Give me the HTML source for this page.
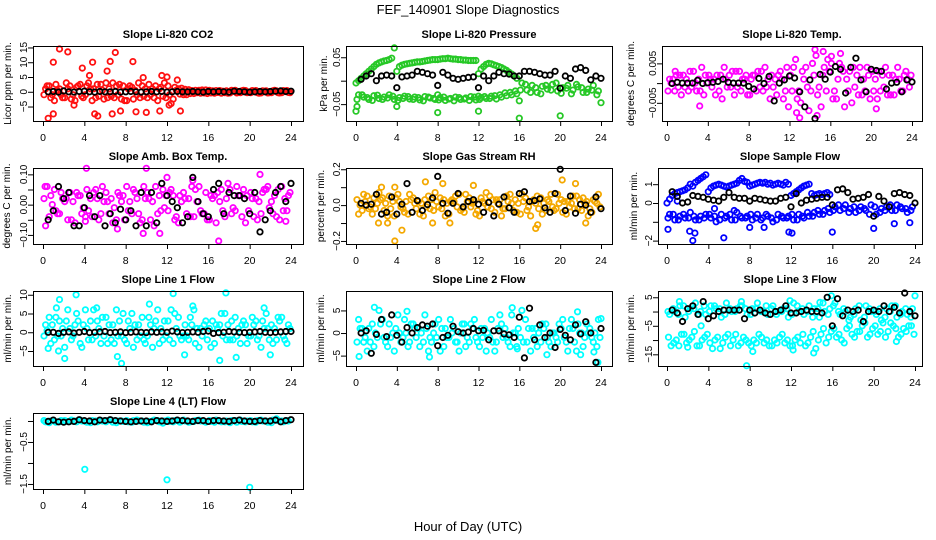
<!DOCTYPE html>
<html><head><meta charset="utf-8"><style>
html,body{margin:0;padding:0;background:#fff}
svg{display:block;font-family:"Liberation Sans",sans-serif}
</style></head><body>
<svg id="chart" width="936" height="540" viewBox="0 0 936 540" xmlns="http://www.w3.org/2000/svg">
<text x="468" y="14" font-size="13" text-anchor="middle">FEF_140901  Slope Diagnostics</text>
<text x="468" y="531" font-size="13" text-anchor="middle">Hour of Day (UTC)</text>
</svg>
<script>
// ---------- DATA ----------
const xTickLabels = [0,4,8,12,16,20,24];
// Panel 1 CO2
const co2RedA=[1,-2,2.5,-1,3,-2.5,1.5,-1.5,2,-3,2.5,0.5,-2,3,-1,2,1,-2.5,3,-1.5,2.5,-2,1,3,-1,1.5,-0.8,0.8,-0.6,0.5,-0.5,0.6,-0.4,0.4,-0.5,0.3,0.5,-0.4,0.3,-0.3,0.4,-0.3,0.3,-0.4,0.3,-0.3,0.4,-0.2];
const co2RedB=[-1,2,-3,1,-2,2,-3,2.5,-1,1,-2,2.5,3,-1.5,2,-2.5,-3,1.5,-1,2,-2,1,-3,-1.5,2,-2.5,1,-1,0.7,-0.6,0.5,-0.4,0.5,-0.5,0.4,-0.3,-0.4,0.5,-0.3,0.4,-0.3,0.4,-0.4,0.3,-0.3,0.3,-0.3,0.4];
const co2RedC=[2,-1,0.5,-2,1,-1,2,-2,3,1,-1.5,-2.5,1,-2,2.5,-3,2,0.5,-2,1,-1,2,1.5,-2,-4,0.5,1.2,-1,0.4,-0.3,0.6,-0.6,0.3,-0.2,0.2,-0.5,0.2,-0.2,0.5,-0.2,0.2,-0.5,0.2,-0.3,0.5,-0.4,0.2,-0.3];
const co2RedOut=[[1.6,14.5],[2.4,13.5],[1,10],[3.8,8],[4.8,10],[6.5,10.3],[7,13.3],[8.7,10.2],[6.2,7],[4.5,5.5],[0.5,-9],[1,-7.5],[5,-7.5],[5.3,-8.2],[6.7,-7.5],[7.5,-6.5],[9,-6.8],[10,-7],[11.3,-6.5],[13.3,-6.5],[11.5,5.5],[12,5],[9.7,4.8],[13,4],[3,-4.5],[12.2,-4.5]];
const co2Black=[0,0.1,-0.1,0.3,0,-0.1,0.1,0.2,0,-0.1,0.1,0,0,0.1,-0.1,0,0.1,0,-0.1,0,0.1,0,0.1,-0.1,0,0.1,0,0,0.1,0,-0.1,0.1,0,0.1,0,-0.1,0.2,0.1,0,-0.1,0,0.1,0,0.1,0.2,0.3,0.1,0.2];
// Panel 2 pressure
const presGreenUp=[-0.005,0,0.005,0.01,0.015,0.02,0.025,0.03,0.035,0.038,0.04,0.042,0.043,0.045,0.048,0.07,0.02,0.03,0.033,0.035,0.036,0.037,0.038,0.039,0.04,0.04,0.041,0.042,0.043,0.044,0.045,0.045,0.045,0.046,0.047,0.047,0.048,0.047,0.046,0.046,0.045,0.045,0.044,0.044,0.043,0.043,0.043,0.043,0.015,0.025,0.03,0.035,0.037,0.036,0.034,0.032,0.03,0.028,0.025,0.022,0.018,0.014,0.01,0.005];
const presGreenLoA=[-0.03,-0.035,-0.04,-0.032,-0.038,-0.035,-0.03,-0.04,-0.036,-0.033,-0.039,-0.035,-0.041,-0.034,-0.037,-0.04,-0.036,-0.042,-0.038,-0.035,-0.04,-0.037,-0.034,-0.041,-0.036,-0.038,-0.033,-0.039,-0.035,-0.032,-0.03,-0.028,-0.005,-0.02,-0.01,-0.025,-0.012,-0.018,-0.008,-0.022,-0.015,-0.01,-0.02,-0.013,-0.025,-0.018,-0.01,-0.022];
const presGreenLoB=[-0.04,-0.03,-0.036,-0.042,-0.031,-0.04,-0.037,-0.033,-0.042,-0.038,-0.034,-0.04,-0.036,-0.043,-0.035,-0.038,-0.041,-0.035,-0.039,-0.043,-0.036,-0.039,-0.042,-0.035,-0.04,-0.034,-0.038,-0.032,-0.03,-0.026,-0.025,-0.022,-0.02,-0.008,-0.025,-0.015,-0.028,-0.01,-0.02,-0.005,-0.027,-0.016,-0.028,-0.008,-0.015,-0.025,-0.02,-0.03];
const presGreenOut=[[0,-0.065],[0.1,-0.055],[8,-0.068],[12,-0.065],[16,-0.08],[20,-0.075],[24,-0.047],[4,-0.055],[16,-0.043],[8,-0.03],[12,-0.033]];
const presBlack=[0.003,0.01,0.015,0,0.01,0.012,0.01,-0.015,0.008,0.01,0.012,0.02,0.018,0.015,0.012,-0.01,0.018,0.012,0.005,0.003,0.005,0.007,0.008,-0.015,0.01,0,0.01,0.018,0.015,0.014,0.01,0.01,0.02,0.02,0.018,0.015,0.012,0.012,0.02,-0.016,0.01,0.005,0.025,0.028,0.022,0.002,0.01,0.005];
// Panel 3 Li-820 temp
const tempMagA=[.001,-.002,.002,-.001,.003,0,-.002,.002,.001,-.003,.002,.001,-.001,.003,-.002,.002,.001,-.002,.003,-.001,.002,-.003,.001,.004,-.002,-.004,.003,-.001,.005,-.003,.002,.006,-.004,.001,.003,-.002,.004,-.003,.001,.002,-.002,.003,-.001,.002,-.003,.001,.002,-.001];
const tempMagB=[-.002,.001,-.001,.002,-.002,.003,.001,-.003,.002,.001,-.002,.004,.002,-.003,.003,.001,-.003,.002,-.001,.004,-.004,.001,.003,-.002,.002,.006,-.005,.004,-.002,.007,-.006,-.002,.005,-.004,.004,.001,-.005,.002,-.003,.004,.003,-.004,.002,-.003,.002,.004,-.002,.001];
const tempMagC=[0,.002,-.003,.001,-.001,-.002,.004,0,-.001,.002,-.004,-.001,.003,-.001,.001,-.003,.002,.003,-.002,.001,-.001,.002,-.004,-.006,.004,-.002,.001,-.007,.002,-.001,.004,.003,-.002,.005,-.006,.003,-.001,.004,-.002,-.004,.001,-.002,.004,-.003,.001,-.002,.003,.002];
const tempMagOut=[[3.2,-.0058],[12.7,-.0075],[13,-.0088],[14.7,-.0082],[14.5,.0085],[17,.0075],[20.5,-.0065],[15.3,.008],[16.1,.0068],[0.8,.003]];
const tempBlack=[-.0001,.0002,0,0,0,.0007,-.0001,.0001,.0002,.0004,.001,.0002,0,0,0,-.0008,-.0015,.0012,-.0001,.0017,-.0045,0,.0008,.0018,.0013,-.0022,-.006,.0008,-.009,.0022,.001,.0028,.0042,.0035,-.0025,.004,.0063,.0008,-.0022,.0035,.0032,.003,-.0015,0,.0002,-.0022,.0008,.0003];
// Panel 4 amb box temp
const ambMagA=[-.07,.03,-.02,.04,.02,-.05,.04,-.03,.05,-.04,.02,.06,.01,-.06,.04,.03,-.02,.05,-.03,.06,.02,-.07,.03,-.01,.04,-.05,.03,.02,-.04,.05,-.02,.04,.03,-.06,.05,.02,-.03,.06,-.04,.03,.02,-.05,.04,.06,-.03,.05,-.02,.03];
const ambMagB=[.02,-.04,.05,-.03,.01,.04,-.06,.03,-.04,.02,.05,-.03,.04,.02,-.05,.01,.06,-.03,.02,-.05,.04,.01,-.03,.05,-.02,.03,-.06,.04,.02,-.04,.06,-.03,-.05,.03,.01,-.04,.05,-.02,.03,-.06,.04,.02,-.03,.05,.01,-.04,.06,-.02];
const ambMagC=[.06,0,-.03,.02,-.05,.01,.03,-.01,-.02,.04,-.05,.01,-.03,-.01,.03,-.05,.01,.04,-.06,.02,-.05,.06,-.02,.03,.05,-.04,.01,-.03,.06,.01,-.03,-.05,.02,.04,-.02,.07,-.01,.03,.05,-.02,-.04,.01,.05,-.01,.03,-.05,.02,.04];
const ambMagOut=[[4.2,.12],[10,.12],[4.1,-.055],[12,.09],[17,-.12],[21,.1],[14.5,.08],[9.7,-.095],[11.3,-.095],[7.2,-.08],[23.5,-.055],[0.2,.06]];
const ambBlack=[-.05,-.02,.06,.02,.04,-.07,-.07,-.01,.03,-.04,.03,-.07,-.03,-.06,-.015,-.05,-.02,-.07,.04,-.07,.04,-.06,.07,.03,.01,-.01,-.06,-.04,.09,.01,-.03,-.04,.05,.07,-.03,.04,.03,.03,.02,-.03,.04,-.09,-.05,-.02,.04,.06,.01,.07];
// Panel 5 gas stream RH
const rhOrgA=[-.05,.06,-.02,.04,.07,-.03,.05,-.06,.02,-.04,.06,.01,-.05,.03,-.02,.07,.04,-.06,.02,.05,-.03,.06,-.01,-.05,.04,.07,-.02,.03,-.06,.05,.01,-.04,.06,-.03,.02,.05,-.05,.03,-.01,.06,-.04,.02,.05,-.02,.04,-.06,.03,.06];
const rhOrgB=[.03,-.03,.05,-.05,.01,.04,-.06,.02,.06,-.02,-.05,.04,.02,-.06,.05,-.03,-.01,.03,-.05,.02,.06,-.04,.04,.02,-.06,.01,.05,-.04,.03,-.02,.06,.03,-.05,.04,-.06,.01,.04,-.03,.06,-.02,.03,-.05,.01,.05,-.03,.02,-.04,.01];
const rhOrgC=[0,.02,-.01,-.02,.03,.01,-.02,.04,-.01,.02,.03,-.02,.01,-.01,.03,.02,-.02,.01,.03,-.01,-.02,.02,.01,-.03,.02,-.01,.03,.01,-.02,.02,-.03,.01,.02,-.01,.03,-.02,.01,.02,-.03,.01,.02,-.01,-.02,.03,.01,-.02,.02,-.01];
const rhOrgOut=[[3.8,-.2],[4.5,-.14],[2.2,-.1],[3.1,-.1],[7.5,-.1],[9.2,-.1],[17.6,-.13],[17.8,-.11],[22.5,-.1],[6.8,.13],[8.5,.12],[11.5,.11],[20.2,.14],[21.5,.12],[3.8,.1],[2.5,.1]];
const rhBlack=[.01,0,.005,.06,-.05,-.04,.045,-.05,.005,.12,-.04,.025,-.03,.003,.04,.16,.01,-.045,.01,.065,-.01,.02,.03,.005,-.04,.015,-.06,.005,.045,-.015,-.04,.065,.075,.02,.025,.035,-.015,-.04,.065,.2,-.03,.05,-.045,.005,0,-.04,.045,-.02];
// Panel 6 sample flow
const sfBlueUp=[0,0.2,0.4,0.5,0.55,0.6,0.65,0.7,0.8,1.0,0.9,1.1,1.2,1.3,1.4,1.5,0.6,0.8,0.9,0.95,1.0,0.95,0.9,0.85,0.9,0.95,1.0,1.05,1.2,1.3,1.15,1.1,0.9,0.95,1.0,1.05,1.1,1.05,1.1,1.0,1.05,0.95,1.0,1.05,1.0,0.95,1.1,1.0,0.4,0.5,0.6,0.7,0.8,0.9,0.95,1.0,0.5,0.4,0.45,0.5,0.45,0.5,0.55,0.45];
const sfBlueLoA=[-0.6,-0.9,-0.7,-0.8,-0.5,-0.9,-0.7,-0.6,-0.8,-1.0,-0.6,-0.7,-0.9,-0.5,-0.8,-0.7,-0.9,-0.6,-0.8,-0.7,-1.0,-0.6,-0.8,-0.7,-0.9,-0.6,-0.8,-0.7,-0.5,-0.6,-0.4,-0.5,-0.2,-0.4,-0.1,-0.3,-0.5,-0.2,-0.4,-0.1,-0.6,-0.3,-0.2,-0.4,-0.1,-0.3,-0.5,-0.2];
const sfBlueLoB=[-0.8,-0.6,-0.9,-0.6,-0.8,-0.7,-0.9,-0.8,-0.6,-0.7,-0.9,-0.8,-0.6,-0.9,-0.7,-0.8,-0.6,-0.8,-0.9,-0.6,-0.8,-0.9,-0.7,-0.8,-0.6,-0.9,-0.7,-0.5,-0.7,-0.4,-0.6,-0.3,-0.4,-0.1,-0.3,-0.5,-0.2,-0.4,-0.3,-0.6,-0.2,-0.5,-0.4,-0.1,-0.4,-0.2,-0.3,-0.4];
const sfBlueOut=[[0.1,-1.4],[2.5,-2],[2.7,-1.6],[2.2,-1.5],[5.5,-1.85],[16,-1.55],[20,-1.35],[11.8,-1.55],[12.1,-1.6],[22,-1.1],[23.5,-1.05],[1.0,0.1],[4.6,-0.3],[6.5,-0.4],[8,-1.3],[9.4,-1.3]];
const sfBlack=[.6,.35,0,.05,.4,.35,.3,.2,.15,.1,.3,.55,.3,.25,.25,.1,.25,.2,.15,.1,.1,.25,.3,-.2,.5,0,.15,.2,.25,.3,.3,-.1,.7,.75,.55,.2,.25,.3,.45,-.7,.35,.1,-.2,.5,.55,.45,.4,0];
// Panel 7 line 1 flow
const l1CyanA=[2,-3,4,-1,3,-2,5,-4,1,-2,3,4,-3,2,-1,5,3,-4,2,-2,4,1,-3,3,-2,5,-1,2,4,-3,1,3,-4,2,5,-2,3,-1,2,-3,4,-2,3,1,-3,4,-1,2];
const l1CyanB=[-1,4,-2,3,-4,1,2,-3,6,3,-1,-3,4,-2,6,-1,-3,5,-2,4,-1,-4,6,-2,3,-3,4,-1,-2,6,-4,2,1,-3,2,5,-2,4,-3,2,-1,3,-4,5,2,-2,4,-3];
const l1CyanC=[0.5,2,-1,1,6,-1,3,2,-2,6,1,-1,2,-3,3,-2,1,2,-1,-3,2,3,1,-1,6,1,-2,-1,2,1,-1,-2,3,1,-1,2,-2,1,3,-1,2,-1,1,-2,1,3,-2,1];
const l1CyanOut=[[0.5,-4.3],[1.5,-5],[1.6,8.7],[2.1,-7],[3.2,10],[7.2,-6.5],[7.6,-8.3],[10.3,7.5],[12.6,10.3],[13.7,-6],[17.1,-7.5],[17.7,10.5],[18.7,-6.7],[22,-6],[21.4,6.5],[1.3,6.5],[5.2,6.5],[14.5,7]];
const l1Black=[0,0,-0.3,0,0.1,-0.2,0,0.2,-0.1,0,0.1,0.2,-0.1,0,0.1,-0.1,0,0.1,0,-0.1,0.1,0,0.1,0,0.3,0.1,-0.1,0,0.1,0,0.2,0.3,-0.3,-0.1,0,0.2,0.1,0,-0.1,0,0.1,0.2,0,-0.1,0,0.1,0.2,0.2];
// Panel 8 line 2 flow
const l2CyanA=[3,-2,1,-3,5,-1,2,-4,0,3,-2,1,-3,4,-1,2,-4,1,3,-2,0,-3,2,-1,1,-4,3,-2,2,-1,4,-3,5,-2,1,-3,2,-1,0,-2,3,-4,1,2,-3,0,-2,3];
const l2CyanB=[-2,1,-4,2,-1,3,-3,0,4,-1,-3,2,1,-2,-4,0,3,-3,-1,1,-4,2,-2,3,-3,1,-1,-4,4,1,-3,0,-1,3,-4,1,-2,2,-3,-1,1,-2,3,-4,0,2,-1,-3];
const l2CyanC=[1,-1,-2,0,2,-2,-1,1,-2,0,2,-1,0,1,-2,-1,1,-1,0,-2,2,-1,1,-2,-1,0,-2,1,-1,-2,0,1,-2,1,-1,0,1,-2,0,2,-1,1,-2,0,-1,1,0,-1];
const l2CyanOut=[[0.3,-5.2],[1.8,5.7],[5,4.8],[7.2,-5.3],[15.3,5.6],[15.8,-3.5],[18.7,-4.8],[21.7,4.7],[22,-4.8],[23.3,-4.2],[23.7,-6.5],[24,3.2]];
const l2Black=[0,.5,-4.5,-.3,3,-.8,4,-.5,-2,1.2,0,1.2,1.8,1.5,2,-2.8,-1,-.5,1.5,.3,0,.2,1,.5,.6,-1.5,.5,.5,-.2,-.4,-1,3.5,-5.5,5.5,-1.5,1.8,-1,0,-3.2,.8,-.5,-1.5,1.8,-.2,2.5,0,-6.5,1];
// Panel 9 line 3 flow
const l3CyanUpA=[-1,0,2,-2,1,3,0,-1,2,1,-2,3,0,1,2,-1,1,3,0,-1,2,0,1,-2,3,0,-1,2,1,-2,0,1,3,-1,0,-2,1,-3,2,0,-1,-3,1,2,-2,0,-1,1];
const l3CyanUpB=[0,1,-1,2,0,1,-1,2,0,2,1,-1,1,0,2,1,-1,1,0,2,1,-1,0,1,-1,2,1,0,-2,1,3,-1,2,0,1,-3,-1,2,-2,1,0,1,-2,0,2,-1,1,-2];
const l3CyanLoA=[-12,-10,-8,-11,-9,-12,-10,-8,-13,-9,-11,-8,-10,-12,-9,-11,-10,-8,-11,-12,-10,-9,-11,-12,-10,-11,-12,-9,-13,-8,-11,-7,-9,-10,-6,-8,-7,-5,-9,-6,-8,-4,-7,-5,-9,-6,-5,-8];
const l3CyanLoB=[-9,-11,-12,-8,-10,-7,-12,-9,-11,-10,-13,-9,-12,-8,-11,-10,-12,-11,-9,-10,-12,-11,-8,-10,-12,-9,-8,-11,-7,-10,-6,-9,-6,-8,-11,-5,-9,-7,-4,-8,-5,-7,-9,-4,-6,-8,-7,-5];
const l3CyanOut=[[7.7,-19],[12.2,-13.5],[14.2,-14.5],[8.3,-14],[2,-12.5],[22.2,-10.5],[1.2,3.5],[3.3,-5],[7.2,3.5],[11.9,3.8],[15.9,5.5],[24,5.5],[14.8,3.2]];
const l3Black=[.5,-.5,-3.5,1,2,-1,3.5,-2.5,-1.5,0,.5,.5,.5,.5,-2.5,.5,-.5,.5,-.5,-1,0,.5,2,-.5,-.5,0,.5,0,0,-.5,5,-5,4.5,-1.5,.5,0,.5,-3.5,0,.5,0,2,0,1.5,-.5,6.5,0,-1.5];
// Panel 10 line 4 flow
const l4CyanA=[-0.02,0,-0.03,0.01,-0.01,0.02,-0.02,0,-0.03,0.01,-0.02,0,0.01,-0.03,0,-0.01,-0.02,0.01,0,-0.03,-0.01,0.02,-0.02,0,-0.01,0.01,-0.03,0,-0.02,0.01,0,-0.03,-0.01,0.02,-0.02,0,0.01,-0.03,-0.01,0,-0.02,0.01,0,-0.03,0.02,0.01,-0.02,0];
const l4CyanB=[0.01,-0.04,0,-0.02,0.01,-0.01,0,0.02,-0.01,-0.04,0,0.01,-0.02,0.02,-0.04,0,0.01,-0.03,0.02,0,-0.04,0,0.01,-0.05,0.02,-0.02,0,0.02,-0.03,-0.01,0.02,-0.01,0.01,-0.03,0,-0.02,-0.04,0.01,0.02,-0.02,0.01,-0.03,0.02,0,-0.04,0.05,0,0.01];
const l4CyanOut=[[4.05,-1.15],[12,-1.4],[20,-1.58]];
const l4Black=[-0.01,0.02,-0.02,-0.03,-0.02,-0.01,0.03,0.01,0,-0.02,0.02,0.01,0.03,0.01,0,-0.01,-0.02,-0.01,0,0,-0.02,0.01,0,-0.01,0,0.02,0.01,0,-0.01,0.01,0.01,-0.01,0.01,0.01,0,-0.01,0.01,0.02,0,-0.01,-0.01,0.01,0,0,0.02,-0.02,0.01,0.03];

// ---------- LAYOUT ----------
const RED="#ff1010",GREEN="#26c826",MAG="#ff00ff",ORG="#f4a800",BLUE="#0000ff",CYAN="#00ffff";
const panels=[
 {name:"co2",title:"Slope Li-820 CO2",ylab:"Licor ppm per min.",L:33,R:303,T:46,B:121,x0:43,x24:291,yT:15.5,yB:-9.9,yt:[-5,0,5,10,15],yl:["−5","0","5","10","15"],labX:7,
  series:[[co2RedA,RED,.25],[co2RedB,RED,.1],[co2RedC,RED,.4]],out:[co2RedOut,RED],black:co2Black},
 {name:"pressure",title:"Slope Li-820 Pressure",ylab:"kPa per min.",L:346,R:612,T:46,B:121,x0:356,x24:601,yT:.074,yB:-.086,yt:[-.05,0,.05],yl:["−0.05","","0.05"],labX:323,
  series:[[presGreenLoA,GREEN,.25],[presGreenLoB,GREEN,.1]],up:[presGreenUp,GREEN],out:[presGreenOut,GREEN],black:presBlack},
 {name:"li820-temp",title:"Slope Li-820 Temp.",ylab:"degrees C per min.",L:662,R:922,T:46,B:121,x0:667,x24:912,yT:.0094,yB:-.0096,yt:[-.005,0,.005],yl:["−0.005","","0.005"],labX:630,
  series:[[tempMagA,MAG,.25],[tempMagB,MAG,.1],[tempMagC,MAG,.4]],out:[tempMagOut,MAG],black:tempBlack},
 {name:"amb-box-temp",title:"Slope Amb. Box Temp.",ylab:"degrees C per min.",L:33,R:303,T:168,B:244,x0:43,x24:291,yT:.121,yB:-.13,yt:[-.1,-.05,0,.05,.1],yl:["−0.10","","0.00","","0.10"],labX:6,
  series:[[ambMagA,MAG,.25],[ambMagB,MAG,.1],[ambMagC,MAG,.4]],out:[ambMagOut,MAG],black:ambBlack},
 {name:"gas-stream-rh",title:"Slope Gas Stream RH",ylab:"percent per min.",L:346,R:612,T:168,B:244,x0:356,x24:601,yT:.207,yB:-.217,yt:[-.2,-.1,0,.1,.2],yl:["−0.2","","0.0","","0.2"],labX:320,
  series:[[rhOrgA,ORG,.25],[rhOrgB,ORG,.1],[rhOrgC,ORG,.4]],out:[rhOrgOut,ORG],black:rhBlack},
 {name:"sample-flow",title:"Slope Sample Flow",ylab:"ml/min per min.",L:658,R:922,T:168,B:244,x0:667,x24:915,yT:1.86,yB:-2.18,yt:[-2,-1,0,1],yl:["−2","","0","1"],labX:633,
  series:[[sfBlueLoA,BLUE,.25],[sfBlueLoB,BLUE,.1]],up:[sfBlueUp,BLUE],out:[sfBlueOut,BLUE],black:sfBlack},
 {name:"line1-flow",title:"Slope Line 1 Flow",ylab:"ml/min per min.",L:33,R:303,T:291,B:366,x0:43,x24:291,yT:11,yB:-9,yt:[-5,0,5,10],yl:["−5","0","5","10"],labX:7,
  series:[[l1CyanA,CYAN,.25],[l1CyanB,CYAN,.1],[l1CyanC,CYAN,.4]],out:[l1CyanOut,CYAN],black:l1Black},
 {name:"line2-flow",title:"Slope Line 2 Flow",ylab:"ml/min per min.",L:346,R:612,T:291,B:366,x0:356,x24:601,yT:9.3,yB:-7.3,yt:[-5,0,5],yl:["−5","0","5"],labX:320,
  series:[[l2CyanA,CYAN,.25],[l2CyanB,CYAN,.1],[l2CyanC,CYAN,.4]],out:[l2CyanOut,CYAN],black:l2Black},
 {name:"line3-flow",title:"Slope Line 3 Flow",ylab:"ml/min per min.",L:658,R:922,T:291,B:366,x0:667,x24:915,yT:7.2,yB:-19.1,yt:[-15,-10,-5,0,5],yl:["−15","","−5","","5"],labX:630,
  series:[[l3CyanUpA,CYAN,.25],[l3CyanUpB,CYAN,.1],[l3CyanLoA,CYAN,.4],[l3CyanLoB,CYAN,.15]],out:[l3CyanOut,CYAN],black:l3Black},
 {name:"line4-flow",title:"Slope Line 4 (LT) Flow",ylab:"ml/min per min.",L:33,R:303,T:413,B:489,x0:43,x24:291,yT:.19,yB:-1.62,yt:[-1.5,-1,-.5,0],yl:["−1.5","","−0.5",""],labX:7,
  series:[[l4CyanA,CYAN,.25],[l4CyanB,CYAN,.1]],out:[l4CyanOut,CYAN],black:l4Black}
];

const NS="http://www.w3.org/2000/svg";
const svg=document.getElementById('chart');
function mk(tag,attrs,parent){const e=document.createElementNS(NS,tag);for(const k in attrs)e.setAttribute(k,attrs[k]);(parent||svg).appendChild(e);return e;}

panels.forEach(p=>{
  const g=mk('g',{});
  
  
  const xs=h=>p.x0+(p.x24-p.x0)*h/24;
  const ys=v=>p.T+(p.yT-v)/(p.yT-p.yB)*(p.B-p.T);
  function pt(h,v,col,nm){
    const c=mk('circle',{cx:xs(h).toFixed(1),cy:ys(v).toFixed(1),r:2.7,fill:'none',stroke:col,'stroke-width':1.8},g);
    
    
  }
  p.series.forEach(s=>s[0].forEach((v,i)=>pt(i*0.5+s[2],v,s[1],'colored-point')));
  if(p.up) p.up[0].forEach((v,i)=>pt(i*0.25,v,p.up[1],'colored-point'));
  p.out[0].forEach(o=>pt(o[0],o[1],p.out[1],'outlier-point'));
  p.black.forEach((v,i)=>pt(0.5+i*0.5,v,'#000','black-point'));
  const box=mk('rect',{x:p.L+.5,y:p.T+.5,width:p.R-p.L,height:p.B-p.T,fill:'none',stroke:'#000','stroke-width':1},g);
  
  
  const t=mk('text',{x:(p.L+p.R)/2,y:p.T-8,'font-size':11,'font-weight':'bold','text-anchor':'middle'},g);
  t.textContent=p.title;
  
  
  const xa=mk('g',{},g);
  
  
  mk('line',{x1:xs(0),x2:xs(24),y1:p.B+.5,y2:p.B+.5,stroke:'#000'},xa);
  xTickLabels.forEach(h=>{
    mk('line',{x1:xs(h)+.5,x2:xs(h)+.5,y1:p.B,y2:p.B+5,stroke:'#000'},xa);
    const tl=mk('text',{x:xs(h),y:p.B+20,'font-size':10.5,'text-anchor':'middle'},xa);
    tl.textContent=h;
    
    
  });
  const ya=mk('g',{},g);
  
  
  mk('line',{x1:p.L+.5,x2:p.L+.5,y1:ys(p.yt[0]),y2:ys(p.yt[p.yt.length-1]),stroke:'#000'},ya);
  p.yt.forEach((v,i)=>{
    const y=ys(v);
    mk('line',{x1:p.L-5,x2:p.L,y1:y+.5,y2:y+.5,stroke:'#000'},ya);
    if(p.yl[i]){
      const tl=mk('text',{x:p.L-6,y:y,'font-size':10,'text-anchor':'middle',transform:`rotate(-90 ${p.L-6} ${y})`},ya);
      tl.textContent=p.yl[i];
      
      
    }
  });
  const cy=(p.T+p.B)/2;
  const yl=mk('text',{x:p.labX+4,y:cy,'font-size':10,'text-anchor':'middle',transform:`rotate(-90 ${p.labX+4} ${cy})`},g);
  yl.textContent=p.ylab;
  
  
});
</script>
</body></html>
